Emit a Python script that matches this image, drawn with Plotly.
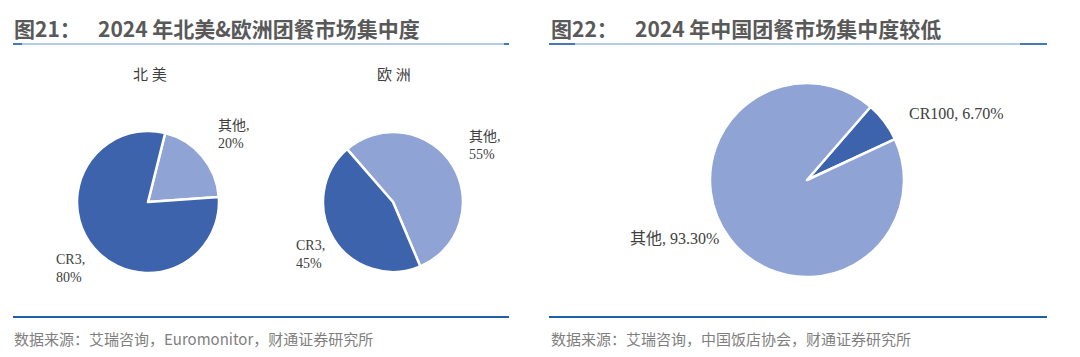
import plotly.graph_objects as go

# ---- data ----
na_labels = ["其他", "CR3"]
na_values = [20, 80]
eu_labels = ["其他", "CR3"]
eu_values = [55, 45]
cn_labels = ["CR100", "其他"]
cn_values = [6.70, 93.30]

title_left_num = "图21："
title_left_text = "2024 年北美&欧洲团餐市场集中度"
title_right_num = "图22："
title_right_text = "2024 年中国团餐市场集中度较低"
source_left = "数据来源：艾瑞咨询，Euromonitor，财通证券研究所"
source_right = "数据来源：艾瑞咨询，中国饭店协会，财通证券研究所"
sub_na = "北 美"
sub_eu = "欧 洲"

DARK = "#3D63AC"
LIGHT = "#8FA4D5"

W, H = 1080, 357


def px_x(x):
    return x / W


def px_y(y):
    return 1 - y / H


def domain(cx, cy, r):
    return dict(x=[px_x(cx - r), px_x(cx + r)], y=[px_y(cy + r), px_y(cy - r)])


fig = go.Figure()

fig.add_trace(go.Pie(
    labels=na_labels, values=na_values, sort=False, direction="clockwise",
    rotation=14, domain=domain(148, 202, 71), textinfo="none", hoverinfo="label+percent",
    marker=dict(colors=[LIGHT, DARK], line=dict(color="white", width=2.5)),
    showlegend=False,
))
fig.add_trace(go.Pie(
    labels=eu_labels, values=eu_values, sort=False, direction="clockwise",
    rotation=319, domain=domain(393, 202, 70), textinfo="none", hoverinfo="label+percent",
    marker=dict(colors=[LIGHT, DARK], line=dict(color="white", width=2.5)),
    showlegend=False,
))
fig.add_trace(go.Pie(
    labels=cn_labels, values=cn_values, sort=False, direction="clockwise",
    rotation=41, domain=domain(807, 180, 97), textinfo="none", hoverinfo="label+percent",
    marker=dict(colors=[DARK, LIGHT], line=dict(color="white", width=2.5)),
    showlegend=False,
))

SERIF = "Liberation Serif, Noto Sans CJK SC, serif"
SANS = "Noto Sans CJK SC, sans-serif"
LBL = dict(family=SERIF, size=14, color="#404040")
LBL2 = dict(family=SERIF, size=16, color="#404040")

ann = []


def add_text(x, y, text, font, xanchor="left"):
    ann.append(dict(x=px_x(x), y=px_y(y), xref="paper", yref="paper", text=text,
                    showarrow=False, xanchor=xanchor, yanchor="middle", align="left", font=font))


# titles
TF = dict(family=SANS, size=21, color="#595959", weight="bold")
add_text(12, 28, title_left_num, TF)
add_text(96, 28, title_left_text, TF)
add_text(549, 28, title_right_num, TF)
add_text(633, 28, title_right_text, TF)

# sources
SF = dict(family=SANS, size=15, color="#7F7F7F")
add_text(12, 338, source_left, SF)
add_text(549, 338, source_right, SF)

# subtitles
STF = dict(family=SERIF, size=15, color="#404040")
add_text(150, 75, sub_na, STF, "center")
add_text(394, 75, sub_eu, STF, "center")

# slice labels
add_text(216, 134, f"{na_labels[0]},<br>{na_values[0]}%", LBL)
add_text(54, 268, f"{na_labels[1]},<br>{na_values[1]}%", LBL)
add_text(467, 145, f"{eu_labels[0]},<br>{eu_values[0]}%", LBL)
add_text(294, 254, f"{eu_labels[1]},<br>{eu_values[1]}%", LBL)
add_text(907, 113, f"{cn_labels[0]}, {cn_values[0]:.2f}%", LBL2)
add_text(628, 238, f"{cn_labels[1]}, {cn_values[1]:.2f}%", LBL2)

shapes = []


def hline(x0, x1, y, color, width):
    shapes.append(dict(type="line", xref="paper", yref="paper", x0=px_x(x0), x1=px_x(x1),
                       y0=px_y(y), y1=px_y(y), line=dict(color=color, width=width)))


TL = "#9CBBE2"
TD = "#1F5FAD"
hline(13, 509, 44, TL, 1.5)
hline(13, 22, 44, TD, 1.5)
hline(504, 509, 44, TD, 1.5)
hline(549, 1047, 44, TL, 1.5)
hline(549, 575, 44, TD, 1.5)
hline(1020, 1047, 44, TD, 1.5)
hline(13, 509, 317, "#2060AA", 2)
hline(549, 1047, 317, "#2060AA", 2)

fig.update_layout(
    width=W, height=H, margin=dict(l=0, r=0, t=0, b=0),
    paper_bgcolor="white", plot_bgcolor="white",
    annotations=ann, shapes=shapes,
)

fig.write_html(
    "out.html",
    config={"displayModeBar": False},
    post_script="document.body.style.margin='0';document.body.style.overflow='hidden';",
)
